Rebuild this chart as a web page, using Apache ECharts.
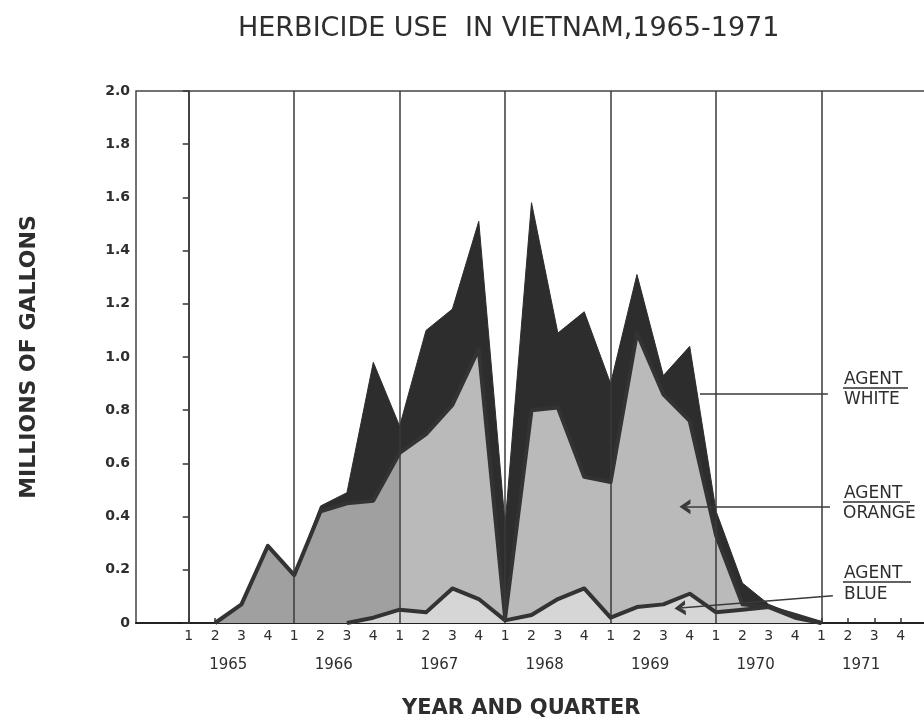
<!DOCTYPE html>
<html>
<head>
<meta charset="utf-8">
<script src="https://cdn.jsdelivr.net/npm/echarts@6/dist/echarts.min.js"></script>
<style>
  html, body { margin: 0; padding: 0; background: #fff; }
  #chart { width: 924px; height: 719px; }
</style>
</head>
<body>
<div id="chart"></div>
<script>
// quarter slots run from two quarters before 1965 Q1 to 1972 Q1 (slot 2 = 1965 Q1)
var years = ["1965", "1966", "1967", "1968", "1969", "1970", "1971"];
var quarterLabels = ["1", "2", "3", "4"];
var firstSlot = 3; // 1965 Q2, where the record starts

// millions of gallons per quarter, 1965 Q2 .. 1971 Q1
var agentBlue = [null, null, null, null, null, 0, 0.02, 0.05, 0.04, 0.13, 0.09, 0.01, 0.03, 0.09, 0.13, 0.02, 0.06, 0.07, 0.11, 0.04, 0.05, 0.06, 0.02, 0];
var agentOrange = [0, 0.07, 0.29, 0.18, 0.42, 0.45, 0.44, 0.59, 0.67, 0.69, 0.94, 0.01, 0.77, 0.72, 0.42, 0.51, 1.03, 0.79, 0.65, 0.29, 0.02, 0, 0.01, 0];
var agentWhite = [0, 0, 0, 0, 0.02, 0.04, 0.52, 0.10, 0.39, 0.36, 0.48, 0.35, 0.78, 0.28, 0.62, 0.37, 0.22, 0.07, 0.28, 0.09, 0.08, 0.01, 0, 0];

var nSlots = 31;
var quarterSlots = [], yearSlots = [];
for (var k = 0; k < nSlots; k++) {
  var i = k - 2;
  quarterSlots.push(i >= 0 && i < 28 ? quarterLabels[i % 4] : "");
  if (k < 30) yearSlots.push("");
}
years.forEach(function (y, j) { yearSlots[4 * j + 3] = y; });

function padded(vals) {
  var out = [];
  for (var k = 0; k < nSlots; k++) {
    var v = vals[k - firstSlot];
    out.push(v === undefined ? null : v);
  }
  return out;
}

var chevron = "path://M6,0 L12,10 L8.5,10 L6,5.5 L3.5,10 L0,10 Z";
var ink = "#2e2e2e";
var textFont = "DejaVu Sans";
var labelFont = "17px DejaVu Sans";

var myChart = echarts.init(document.getElementById("chart"));
var options = {
  animation: false,
  backgroundColor: "#fff",
  title: [
    {
      text: "HERBICIDE USE  IN VIETNAM,1965-1971",
      left: 233,
      top: 10,
      textStyle: { fontFamily: textFont, fontSize: 27, fontWeight: "normal", color: ink },
    },
    {
      text: "YEAR AND QUARTER",
      left: 397,
      top: 693,
      textStyle: { fontFamily: textFont, fontSize: 21, fontWeight: "bold", color: ink },
    },
  ],
  grid: {
    left: 136,
    top: 91,
    width: 791,
    height: 532,
    containLabel: false,
    outerBoundsMode: "none",
    show: true,
    borderColor: "#444",
    borderWidth: 1.5,
  },
  xAxis: [
    {
      type: "category",
      data: quarterSlots,
      boundaryGap: false,
      position: "bottom",
      axisLine: { lineStyle: { color: "#222", width: 2 } },
      axisTick: {
        show: true,
        inside: true,
        length: 5,
        interval: function (idx) { return idx >= 2 && idx < 30; },
        lineStyle: { color: "#333", width: 1.5 },
      },
      axisLabel: { interval: 0, margin: 6, fontFamily: textFont, fontSize: 14, color: ink },
      splitLine: { show: false },
    },
    {
      // year labels under the quarters
      type: "category",
      data: yearSlots,
      boundaryGap: true,
      position: "bottom",
      axisLine: { show: false },
      axisTick: { show: false },
      splitLine: { show: false },
      axisLabel: { interval: 0, margin: 35, fontFamily: textFont, fontSize: 15, color: ink },
    },
    {
      // hidden quarter scale for the year rules and leader lines (0 = 1965 Q1)
      type: "value",
      min: -2,
      max: 28,
      show: false,
    },
  ],
  yAxis: {
    type: "value",
    min: 0,
    max: 2,
    interval: 0.2,
    name: "MILLIONS OF GALLONS",
    nameLocation: "middle",
    nameRotate: 90,
    nameGap: 96,
    nameTextStyle: { fontFamily: textFont, fontSize: 22, fontWeight: "bold", color: ink },
    axisLine: { show: true, lineStyle: { color: "#333", width: 1.5 } },
    axisTick: { show: true, length: 6, lineStyle: { color: "#333", width: 1.5 } },
    axisLabel: {
      margin: 6,
      fontFamily: textFont,
      fontSize: 14,
      fontWeight: "bold",
      color: ink,
      formatter: function (v) { return v === 0 ? "0" : v.toFixed(1); },
    },
    splitLine: { show: false },
  },
  series: [
    {
      name: "Agent Blue",
      type: "line",
      stack: "total",
      z: 4,
      showSymbol: false,
      data: padded(agentBlue),
      lineStyle: { color: "#333", width: 4, join: "round" },
      areaStyle: { color: "#d6d6d6", opacity: 1 },
    },
    {
      name: "Agent Orange",
      type: "line",
      stack: "total",
      z: 3,
      showSymbol: false,
      data: padded(agentOrange),
      lineStyle: { color: "#333", width: 4, join: "round" },
      areaStyle: {
        opacity: 1,
        color: new echarts.graphic.LinearGradient(0, 0, 1, 0, [
          { offset: 0, color: "#a0a0a0" },
          { offset: 0.303, color: "#a0a0a0" },
          { offset: 0.304, color: "#bababa" },
          { offset: 1, color: "#bababa" },
        ]),
      },
    },
    {
      name: "Agent White",
      type: "line",
      stack: "total",
      z: 2,
      showSymbol: false,
      data: padded(agentWhite),
      lineStyle: { color: "#2d2d2d", width: 1 },
      areaStyle: { color: "#2d2d2d", opacity: 1 },
    },
    {
      name: "rules",
      type: "line",
      xAxisIndex: 2,
      z: 5,
      data: [],
      markLine: {
        silent: true,
        symbol: "none",
        label: { show: false },
        lineStyle: { color: "#3a3a3a", width: 1.5, type: "solid" },
        data: years.map(function (y, j) { return { xAxis: 4 * j }; }).concat([
          [{ coord: [19.39, 0.861] }, { coord: [24.24, 0.861] }],
          [{ coord: [18.82, 0.437], symbol: chevron, symbolSize: [15, 11] }, { coord: [24.32, 0.437] }],
          [{ coord: [18.63, 0.056], symbol: chevron, symbolSize: [15, 11] }, { coord: [24.43, 0.102] }],
        ]),
      },
    },
  ],
  graphic: [
    { type: "text", z: 10, left: 844, top: 371, style: { text: "AGENT", font: labelFont, fill: ink } },
    { type: "line", z: 10, shape: { x1: 843, y1: 388, x2: 908, y2: 388 }, style: { stroke: ink, lineWidth: 1.5 } },
    { type: "text", z: 10, left: 844, top: 391, style: { text: "WHITE", font: labelFont, fill: ink } },

    { type: "text", z: 10, left: 844, top: 485, style: { text: "AGENT", font: labelFont, fill: ink } },
    { type: "line", z: 10, shape: { x1: 843, y1: 502, x2: 910, y2: 502 }, style: { stroke: ink, lineWidth: 1.5 } },
    { type: "text", z: 10, left: 843, top: 505, style: { text: "ORANGE", font: labelFont, fill: ink } },

    { type: "text", z: 10, left: 844, top: 565, style: { text: "AGENT", font: labelFont, fill: ink } },
    { type: "line", z: 10, shape: { x1: 843, y1: 582, x2: 911, y2: 582 }, style: { stroke: ink, lineWidth: 1.5 } },
    { type: "text", z: 10, left: 844, top: 586, style: { text: "BLUE", font: labelFont, fill: ink } },
  ],
};
myChart.setOption(options);
window.addEventListener("resize", function () { myChart.resize(); });
</script>
</body>
</html>
